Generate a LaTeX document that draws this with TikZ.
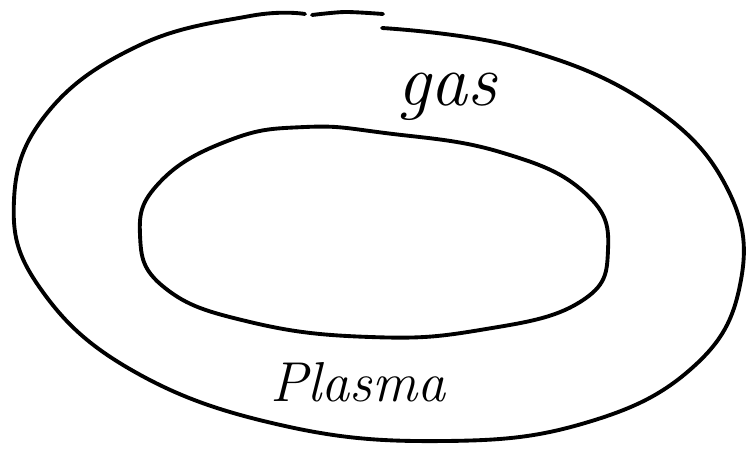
\documentclass[tikz,border=0pt]{standalone}
\usepackage{tikz}
\begin{document}
\begin{tikzpicture}[x=0.02cm, y=-0.02cm,
  stroke/.style={line width=2.2pt, line cap=round, line join=round},
  handtext/.style={font=\fontsize{32}{32}\selectfont\itshape}]
\useasboundingbox (0,0) rectangle (749,453);
% outer ring
\draw[stroke] plot[smooth, tension=0.7] coordinates {(382,28) (520,48) (650,105) (728,190) (740,285) (692,368) (585,423) (445,441) (285,426) (135,372) (40,288) (14,200) (48,112) (140,45) (250,16) (305,14)};
\draw[stroke] plot[smooth] coordinates {(312,15) (345,12) (383,14)};
% inner ring
\draw[stroke] plot[smooth cycle, tension=0.75] coordinates {(385,133) (500,152) (585,193) (608,250) (580,302) (480,330) (370,337) (250,322) (165,288) (140,235) (160,182) (230,140) (305,127)};
% labels
\node[handtext, font=\fontsize{42}{42}\selectfont\itshape] (gas) at (447,97) {gas};
\node[handtext] (plasma) at (358,382) {Plasma};
\end{tikzpicture}
\end{document}
